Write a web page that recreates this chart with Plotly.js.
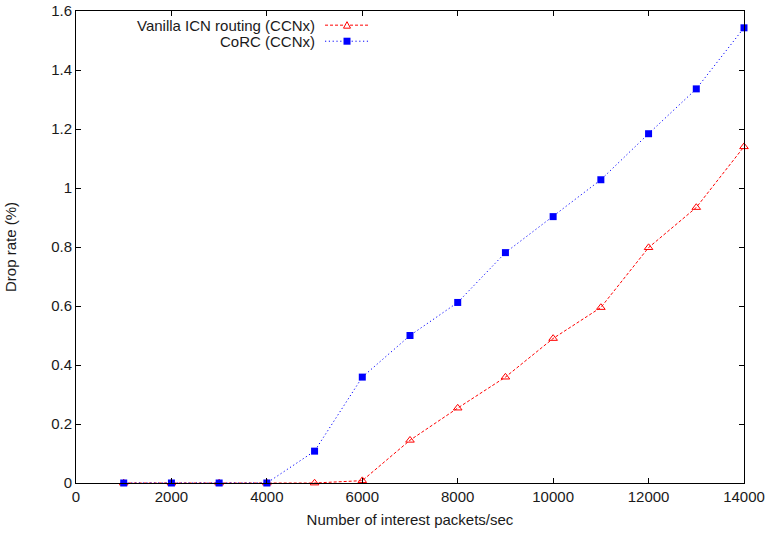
<!DOCTYPE html>
<html>
<head>
<meta charset="utf-8">
<script src="https://cdn.plot.ly/plotly-3.0.1.min.js"></script>
<style>html,body{margin:0;padding:0;background:#fff;}#chart{width:770px;height:534px;}</style>
</head>
<body>
<div id="chart"></div>
<script>
const rates = [1000, 2000, 3000, 4000, 5000, 6000, 7000, 8000, 9000, 10000, 11000, 12000, 13000, 14000];
const vanillaDrop = [0, 0, 0, 0, 0, 0.008, 0.145, 0.254, 0.359, 0.49, 0.595, 0.798, 0.934, 1.14];
const corcDrop = [0, 0, 0, 0, 0.108, 0.359, 0.50, 0.612, 0.781, 0.903, 1.028, 1.184, 1.336, 1.543];
const seriesNames = ['Vanilla ICN routing (CCNx)', 'CoRC (CCNx)'];
const xTicks = [0, 2000, 4000, 6000, 8000, 10000, 12000, 14000];
const yTicks = [0, 0.2, 0.4, 0.6, 0.8, 1, 1.2, 1.4, 1.6];
const yTickText = ['0', '0.2', '0.4', '0.6', '0.8', '1', '1.2', '1.4', '1.6'];

const font = 'Liberation Sans, Arial, Helvetica, sans-serif';
const txt = '#1a1a1a';
const fs = 15;

const traces = [
  {
    x: rates, y: vanillaDrop, name: seriesNames[0], type: 'scatter', mode: 'lines+markers',
    line: {color: '#ff0000', width: 1, dash: '3px,2px'},
    marker: {symbol: 'triangle-up-open', size: 7.5, color: '#ff0000', line: {width: 1, color: '#ff0000'}},
    showlegend: false, cliponaxis: false
  },
  {
    x: rates, y: corcDrop, name: seriesNames[1], type: 'scatter', mode: 'lines+markers',
    line: {color: '#0000ff', width: 1, dash: '1.2px,2.6px'},
    marker: {symbol: 'square', size: 7, color: '#0000ff', line: {width: 0}},
    showlegend: false, cliponaxis: false
  }
];

const legRowY = [0.970, 0.936];
const legTextX = 0.3608, legL0 = 0.3728, legL1 = 0.4386, legM = 0.4057;

const layout = {
  width: 770, height: 534,
  margin: {l: 76, r: 26, t: 11, b: 51},
  paper_bgcolor: '#fff', plot_bgcolor: '#fff',
  font: {family: font, size: fs, color: txt},
  showlegend: false,
  xaxis: {
    range: [0, 14000], tickvals: xTicks, ticktext: xTicks.map(String),
    ticks: 'inside', ticklen: 5, tickcolor: '#000', tickwidth: 1,
    showline: true, linecolor: '#000', linewidth: 1, mirror: 'ticks',
    showgrid: false, zeroline: false,
    tickfont: {family: font, size: fs, color: txt},
    title: {text: 'Number of interest packets/sec', font: {family: font, size: fs, color: txt}, standoff: 10}
  },
  yaxis: {
    range: [0, 1.6], tickvals: yTicks, ticktext: yTickText,
    ticks: 'inside', ticklen: 5, tickcolor: '#000', tickwidth: 1,
    showline: true, linecolor: '#000', linewidth: 1, mirror: 'ticks',
    showgrid: false, zeroline: false,
    tickfont: {family: font, size: fs, color: txt},
    title: {text: 'Drop rate (%)', font: {family: font, size: fs, color: txt}, standoff: 30}
  },
  annotations: [
    {xref: 'paper', yref: 'paper', x: legTextX, y: legRowY[0], xanchor: 'right', yanchor: 'middle',
     text: seriesNames[0], showarrow: false, font: {family: font, size: fs, color: txt}},
    {xref: 'paper', yref: 'paper', x: legTextX, y: legRowY[1], xanchor: 'right', yanchor: 'middle',
     text: seriesNames[1], showarrow: false, font: {family: font, size: fs, color: txt}}
  ],
  shapes: [
    {type: 'line', xref: 'paper', yref: 'paper', x0: legL0, x1: legL1, y0: legRowY[0], y1: legRowY[0],
     line: {color: '#ff0000', width: 1, dash: '3px,2px'}},
    {type: 'line', xref: 'paper', yref: 'paper', x0: legL0, x1: legL1, y0: legRowY[1], y1: legRowY[1],
     line: {color: '#0000ff', width: 1, dash: '1.2px,2.6px'}},
    {type: 'path', xref: 'paper', yref: 'paper', xsizemode: 'pixel', ysizemode: 'pixel',
     xanchor: legM, yanchor: legRowY[0], path: 'M-3.5,-3 L3.5,-3 L0,3.5 Z',
     fillcolor: '#fff', line: {color: '#ff0000', width: 1}},
    {type: 'rect', xref: 'paper', yref: 'paper', xsizemode: 'pixel', ysizemode: 'pixel',
     xanchor: legM, yanchor: legRowY[1], x0: -3.5, x1: 3.5, y0: -3.5, y1: 3.5,
     fillcolor: '#0000ff', line: {width: 0}}
  ]
};

Plotly.newPlot('chart', traces, layout, {displayModeBar: false, staticPlot: true});
</script>
</body>
</html>
